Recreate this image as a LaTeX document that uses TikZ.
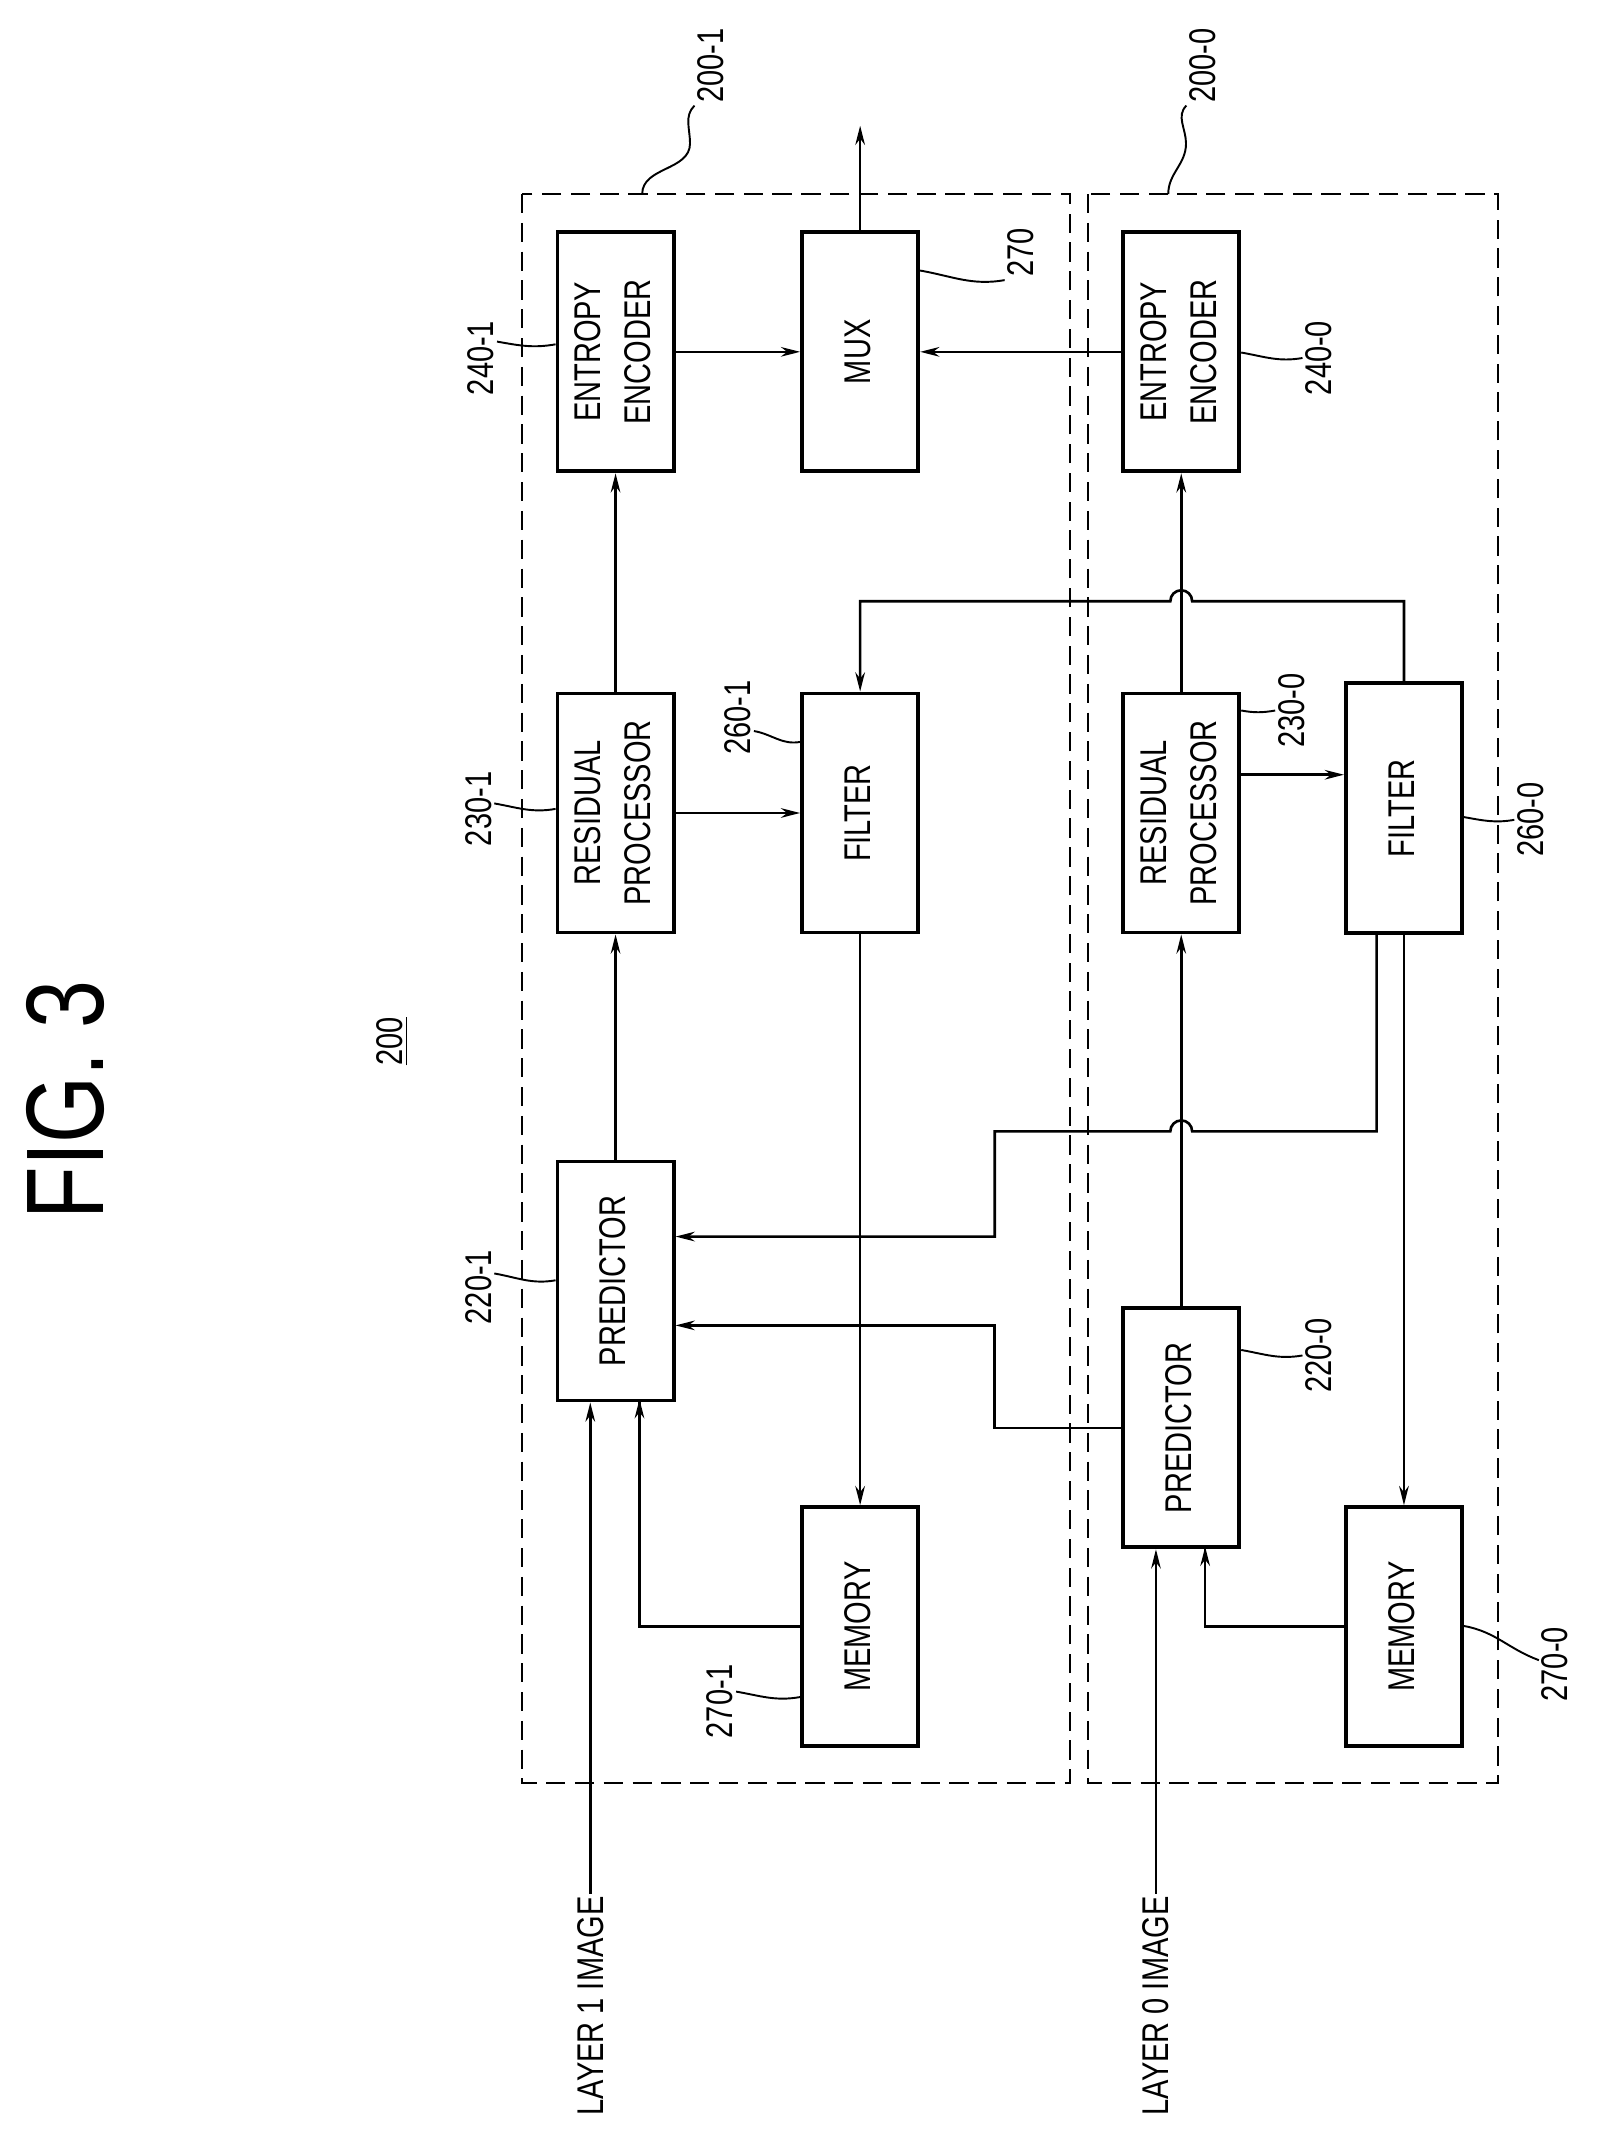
\documentclass[tikz,border=0pt]{standalone}
\usepackage{fontspec}
\setmainfont{Liberation Sans}[FakeStretch=0.78]
\usetikzlibrary{arrows.meta,calc}
\begin{document}
\begin{tikzpicture}[x=0.02cm,y=-0.02cm,
  blk/.style={draw,line width=1.6pt,minimum width=1.7cm,minimum height=3.5cm,inner sep=0pt,font=\fontsize{15.5}{21}\selectfont},
  blk0/.style={blk,minimum height=3.66cm},
  ln/.style={line width=1.1pt},
  arr/.style={ln,-{Stealth[length=8pt,width=4pt]}},
  lab/.style={font=\fontsize{15.5}{19}\selectfont,inner sep=1pt},
  lead/.style={line width=0.8pt},
  dsh/.style={draw,line width=0.8pt,dash pattern=on 8pt off 4pt}]
\useasboundingbox (0,0) rectangle (1170,1564);
\newcommand{\rt}[1]{\rotatebox{90}{\begin{tabular}{@{}c@{}}#1\end{tabular}}}
% title
\node[font=\fontsize{46}{50}\selectfont] (fig) at (48,805) {\rotatebox{90}{FIG. 3}};
\node[lab] (t200) at (287,762) {\rotatebox{90}{\underline{200}}};
% dashed boxes
\draw[dsh] (382,142) rectangle (783,1305);
\draw[dsh] (796,142) rectangle (1096,1305);
\coordinate (b1) at (470,142);
\coordinate (b0) at (855,142);
\node[lab] (l2001) at (520,48) {\rotatebox{90}{200-1}};
\node[lab] (l2000) at (880,48) {\rotatebox{90}{200-0}};
\draw[lead] (b1) to[out=90,in=-90] (505,105) to[out=90,in=-135] (l2001.south west);
\draw[lead] (b0) to[out=90,in=-90] (868,105) to[out=90,in=-135] (l2000.south west);
% blocks
\node[blk] (ee1) at (450.5,257.5) {\rt{ENTROPY\\ENCODER}};
\node[blk] (mux) at (629.5,257.5) {\rt{MUX}};
\node[blk] (ee0) at (864.5,257.5) {\rt{ENTROPY\\ENCODER}};
\node[blk] (rp1) at (450.5,595) {\rt{RESIDUAL\\PROCESSOR}};
\node[blk] (f1) at (629.5,595) {\rt{FILTER}};
\node[blk] (rp0) at (864.5,595) {\rt{RESIDUAL\\PROCESSOR}};
\node[blk0] (f0) at (1027.5,591.5) {\rt{FILTER}};
\node[blk] (p1) at (450.5,937.5) {\rt{PREDICTOR}};
\node[blk] (p0) at (864.5,1045) {\rt{PREDICTOR}};
\node[blk] (m1) at (629.5,1190.5) {\rt{MEMORY}};
\node[blk] (m0) at (1027.5,1190.5) {\rt{MEMORY}};
\node[lab,font=\fontsize{15.5}{19}\selectfont] (in1) at (432,1468) {\rotatebox{90}{LAYER 1 IMAGE}};
\node[lab,font=\fontsize{15.5}{19}\selectfont] (in0) at (846,1468) {\rotatebox{90}{LAYER 0 IMAGE}};
\coordinate (out) at (629.5,92);
% connectors
\draw[arr] (mux.north) -- (out);
\draw[arr] (ee1.east) -- (mux.west);
\draw[arr] (ee0.west) -- (mux.east);
\draw[arr] (rp1.north) -- (ee1.south);
\draw[arr] (rp0.north) -- (ee0.south);
\draw[arr] (rp1.east) -- (f1.west);
\draw[arr] (rp0.east |- 0,567) -- (f0.west |- 0,567);
\draw[arr] (f0.north) |- (872.5,440) arc[start angle=0,end angle=-180,radius=8] -- (629.5,440) -- (f1.north);
\draw[arr] (f1.south) -- (m1.north);
\draw[arr] ($(f0.south)+(-20,0)$) |- (872.5,828) arc[start angle=0,end angle=-180,radius=8] -- (728,828) |- (p1.east |- 0,905);
\draw[arr] (f0.south) -- (m0.north);
\draw[arr] (p0.west) -| (728,970) -- (p1.east |- 0,970);
\draw[arr] (p0.north) -- (rp0.south);
\draw[arr] (p1.north) -- (rp1.south);
\draw[arr] (m1.west) -| (468,1025) -- (468,1024);
\draw[arr] (m0.west) -| (882,1133) -- (882,1132);
\draw[arr] (in1.north) -- (in1.north |- p1.south);
\draw[arr] (in0.north) -- (in0.north |- p0.south);
% reference labels
\node[lab] (l2401) at (352,262) {\rotatebox{90}{240-1}};
\draw[lead] (l2401.east |- 0,250) to[out=-10,in=190] (ee1.west |- 0,252);
\node[lab] (l270) at (747,185) {\rotatebox{90}{270}};
\draw[lead] (mux.east |- 0,198) to[out=-10,in=190] (l270.west |- 0,205);
\node[lab] (l2400) at (965,262) {\rotatebox{90}{240-0}};
\draw[lead] (ee0.east |- 0,258) to[out=-10,in=190] (l2400.west |- 0,262);
\node[lab] (l2301) at (350,592) {\rotatebox{90}{230-1}};
\draw[lead] (l2301.east |- 0,588) to[out=-10,in=190] (rp1.west |- 0,592);
\node[lab] (l2601) at (540,525) {\rotatebox{90}{260-1}};
\draw[lead] (l2601.east |- 0,535) to[out=-10,in=190] (f1.west |- 0,543);
\node[lab] (l2300) at (945,520) {\rotatebox{90}{230-0}};
\draw[lead] (rp0.east |- 0,520) to[out=-10,in=190] (l2300.west |- 0,520);
\node[lab] (l2600) at (1120,600) {\rotatebox{90}{260-0}};
\draw[lead] (f0.east |- 0,598) to[out=-10,in=190] (l2600.west |- 0,600);
\node[lab] (l2201) at (350,942) {\rotatebox{90}{220-1}};
\draw[lead] (l2201.east |- 0,932) to[out=-10,in=190] (p1.west |- 0,937);
\node[lab] (l2200) at (965,992) {\rotatebox{90}{220-0}};
\draw[lead] (p0.east |- 0,988) to[out=-10,in=190] (l2200.west |- 0,992);
\node[lab] (l2701) at (527,1245) {\rotatebox{90}{270-1}};
\draw[lead] (l2701.east |- 0,1238) to[out=-10,in=190] (m1.west |- 0,1242);
\node[lab] (l2700) at (1138,1218) {\rotatebox{90}{270-0}};
\draw[lead] (m0.east |- 0,1190) to[out=-10,in=160] (l2700.west |- 0,1215);
\end{tikzpicture}
\end{document}
